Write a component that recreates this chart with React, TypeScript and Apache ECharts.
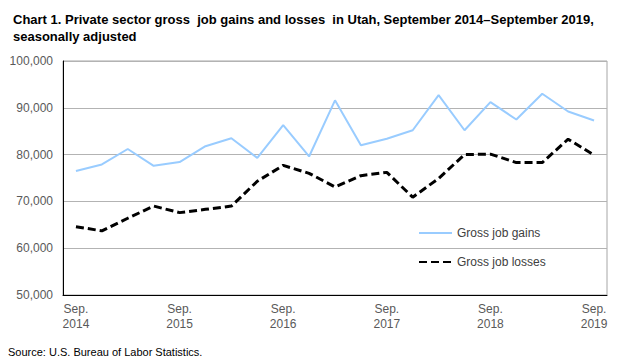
import React, { useEffect, useRef } from "react";
import * as echarts from "echarts";

const categories = [
  "Sep. 2014", "Dec. 2014", "Mar. 2015", "Jun. 2015",
  "Sep. 2015", "Dec. 2015", "Mar. 2016", "Jun. 2016",
  "Sep. 2016", "Dec. 2016", "Mar. 2017", "Jun. 2017",
  "Sep. 2017", "Dec. 2017", "Mar. 2018", "Jun. 2018",
  "Sep. 2018", "Dec. 2018", "Mar. 2019", "Jun. 2019",
  "Sep. 2019",
];

const grossJobGains = [
  76500, 77900, 81200, 77600, 78400, 81800, 83500, 79300, 86300, 79600, 91600,
  82000, 83400, 85200, 92700, 85200, 91200, 87500, 93000, 89200, 87300,
];

const grossJobLosses = [
  64600, 63700, 66400, 69000, 67600, 68300, 69000, 74300, 77700, 76000, 73100,
  75500, 76200, 70900, 74900, 80000, 80100, 78300, 78300, 83300, 79900,
];

const yTicks = [50000, 60000, 70000, 80000, 90000, 100000];

const titleText =
  "Chart 1. Private sector gross  job gains and losses  in Utah, September 2014\u2013September 2019,\nseasonally adjusted";
const sourceText = "Source: U.S. Bureau of Labor Statistics.";

export default function App() {
  const ref = useRef<HTMLDivElement>(null);

  useEffect(() => {
    if (!ref.current) return;
    const chart = echarts.init(ref.current, null, { renderer: "svg" });
    const font = "'Liberation Sans', Arial, sans-serif";
    chart.setOption({
      animation: false,
      backgroundColor: "#ffffff",
      title: {
        text: titleText,
        left: 8,
        top: 6,
        textStyle: {
          fontFamily: font,
          fontSize: 13,
          fontWeight: "bold",
          color: "#000000",
          lineHeight: 17,
        },
      },
      grid: {
        left: 63,
        right: 15,
        top: 61,
        bottom: 69,
        show: true,
        borderColor: "#a6a6a6",
        borderWidth: 1,
      },
      legend: {
        orient: "vertical",
        left: 418,
        top: 227,
        padding: 0,
        itemGap: 17,
        itemWidth: 33,
        itemHeight: 14,
        itemStyle: { opacity: 0 },
        textStyle: { fontFamily: font, fontSize: 12, color: "#404040" },
        data: ["Gross job gains", "Gross job losses"],
      },
      xAxis: {
        type: "category",
        data: categories,
        boundaryGap: true,
        axisLine: { lineStyle: { color: "#000000", width: 1 } },
        axisTick: { interval: 0, length: 5, lineStyle: { color: "#000000" } },
        axisLabel: {
          interval: (i: number) => i % 4 === 0,
          formatter: (v: string) => v.replace(" ", "\n"),
          fontFamily: font,
          fontSize: 12,
          color: "#595959",
          lineHeight: 15,
          margin: 6,
        },
        splitLine: { show: false },
      },
      yAxis: {
        type: "value",
        min: yTicks[0],
        max: yTicks[yTicks.length - 1],
        interval: 10000,
        axisLine: { show: true, lineStyle: { color: "#000000", width: 1 } },
        axisTick: { show: false },
        axisLabel: {
          fontFamily: font,
          fontSize: 12,
          color: "#595959",
          margin: 10,
          formatter: (v: number) => v.toLocaleString("en-US"),
        },
        splitLine: { lineStyle: { color: "#b3b3b3", width: 1 } },
      },
      series: [
        {
          name: "Gross job gains",
          type: "line",
          data: grossJobGains,
          symbol: "none",
          lineStyle: { color: "#99ccff", width: 2 },
          itemStyle: { color: "#99ccff" },
        },
        {
          name: "Gross job losses",
          type: "line",
          data: grossJobLosses,
          symbol: "none",
          lineStyle: { color: "#000000", width: 3, type: [8, 4] },
          itemStyle: { color: "#000000" },
        },
      ],
      graphic: [
        {
          type: "text",
          left: 8,
          top: 346,
          style: {
            text: sourceText,
            fontFamily: font,
            fontSize: 11,
            fill: "#000000",
          },
        },
      ],
    });
    return () => chart.dispose();
  }, []);

  return <div ref={ref} style={{ width: 622, height: 364, margin: -8 }} />;
}
